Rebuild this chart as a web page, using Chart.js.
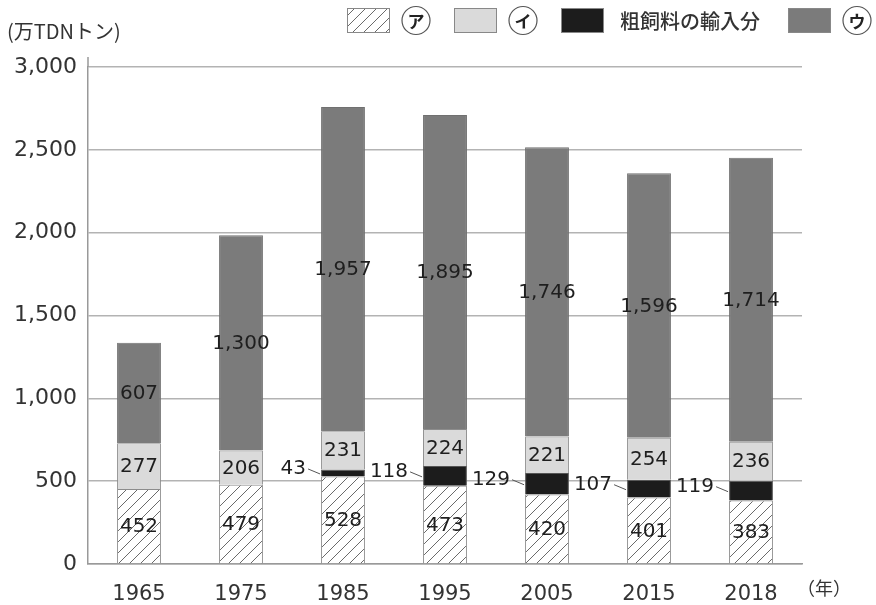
<!DOCTYPE html>
<html lang="ja">
<head>
<meta charset="UTF-8">
<title>飼料供給量の推移</title>
<script src="https://cdn.jsdelivr.net/npm/chart.js@4.4.1/dist/chart.umd.min.js"></script>
<style>
  html, body { margin: 0; padding: 0; background: #fff; overflow: hidden; }
  #wrap { width: 876px; height: 605px; }
</style>
</head>
<body>
<div id="wrap"><canvas id="chart" width="876" height="605"></canvas></div>
<script>
// data (万TDNトン)
const years = ['1965', '1975', '1985', '1995', '2005', '2015', '2018'];
const seriesA = [452, 479, 528, 473, 420, 401, 383];          // ア
const seriesImport = [null, null, 43, 118, 129, 107, 119];    // 粗飼料の輸入分
const seriesI = [277, 206, 231, 224, 221, 254, 236];          // イ
const seriesU = [607, 1300, 1957, 1895, 1746, 1596, 1714];    // ウ
const yTicks = [0, 500, 1000, 1500, 2000, 2500, 3000];

const FONT = '"DejaVu Sans", sans-serif';
const JFONT = '"Noto Sans CJK JP", sans-serif';

// hatched fill for ア
function hatch() {
  const s = 11;
  const c = document.createElement('canvas');
  c.width = s; c.height = s;
  const g = c.getContext('2d');
  g.fillStyle = '#fff';
  g.fillRect(0, 0, s, s);
  g.strokeStyle = '#6a6a6a';
  g.lineWidth = 1;
  g.beginPath();
  g.moveTo(0, s); g.lineTo(s, 0);
  g.moveTo(-2, 2); g.lineTo(2, -2);
  g.moveTo(s - 2, s + 2); g.lineTo(s + 2, s - 2);
  g.stroke();
  return g.createPattern(c, 'repeat');
}
const hatchFill = hatch();

// labels inside segments, import values to the left with a short leader
const segLabels = {
  id: 'segLabels',
  afterDatasetsDraw(chart) {
    const ctx = chart.ctx;
    ctx.save();
    ctx.font = '20px ' + FONT;
    ctx.fillStyle = '#1e1e1e';
    ctx.textBaseline = 'middle';
    chart.data.datasets.forEach((ds, i) => {
      chart.getDatasetMeta(i).data.forEach((bar, j) => {
        const v = ds.data[j];
        if (v == null) return;
        const cy = (bar.y + bar.base) / 2;
        const txt = v.toLocaleString('en-US');
        if (ds.labelOutside) {
          const left = bar.x - bar.width / 2;
          ctx.textAlign = 'right';
          ctx.fillText(txt, left - 15, cy - 4);
          ctx.strokeStyle = '#555';
          ctx.lineWidth = 1;
          ctx.beginPath();
          ctx.moveTo(left - 13, cy - 4);
          ctx.lineTo(left - 1, cy + 1);
          ctx.stroke();
        } else {
          ctx.textAlign = 'center';
          ctx.fillText(txt, bar.x, cy + 1);
        }
      });
    });
    ctx.restore();
  }
};

// unit label, year label and the legend row at the top
const extras = {
  id: 'extras',
  afterDraw(chart) {
    const ctx = chart.ctx;
    const area = chart.chartArea;
    ctx.save();
    // y axis runs a little above the top gridline
    ctx.strokeStyle = '#999';
    ctx.lineWidth = 1.5;
    ctx.beginPath();
    ctx.moveTo(area.left, area.top - 10);
    ctx.lineTo(area.left, area.top);
    ctx.stroke();

    ctx.fillStyle = '#333';
    ctx.textBaseline = 'middle';
    ctx.font = '20px ' + JFONT;
    ctx.textAlign = 'left';
    ctx.fillText('(万TDNトン)', 7, 31);
    ctx.font = '18px ' + JFONT;
    ctx.fillText('（年）', area.right - 5, 588);

    // legend: ア, イ, 粗飼料の輸入分, ウ
    const order = [0, 2, 1, 3];
    let x = 347;
    const by = 8, bw = 43, bh = 25;
    order.forEach(i => {
      const ds = chart.data.datasets[i];
      ctx.fillStyle = ds.backgroundColor;
      ctx.fillRect(x, by, bw, bh);
      ctx.strokeStyle = '#888';
      ctx.lineWidth = 1;
      ctx.strokeRect(x + 0.5, by + 0.5, bw - 1, bh - 1);
      if (ds.mark) {
        x += bw + 12;
        const r = 14, cx = x + r, cy = by + bh / 2;
        ctx.beginPath();
        ctx.arc(cx, cy, r, 0, Math.PI * 2);
        ctx.strokeStyle = '#555';
        ctx.lineWidth = 1.2;
        ctx.stroke();
        ctx.fillStyle = '#222';
        ctx.font = 'bold 17px ' + JFONT;
        ctx.textAlign = 'center';
        ctx.fillText(ds.mark, cx, cy + 1);
        x += 2 * r + 24;
      } else {
        x += bw + 16;
        ctx.fillStyle = '#333';
        ctx.font = '500 20px ' + JFONT;
        ctx.textAlign = 'left';
        ctx.fillText(ds.label, x, by + bh / 2 + 1);
        x += ctx.measureText(ds.label).width + 28;
      }
    });
    ctx.restore();
  }
};

new Chart(document.getElementById('chart'), {
  type: 'bar',
  data: {
    labels: years,
    datasets: [
      { label: 'ア', mark: 'ア', data: seriesA, backgroundColor: hatchFill, borderColor: '#8c8c8c', borderWidth: 1 },
      { label: '粗飼料の輸入分', data: seriesImport, backgroundColor: '#1c1c1c', borderColor: '#555', borderWidth: 1, labelOutside: true },
      { label: 'イ', mark: 'イ', data: seriesI, backgroundColor: '#dadada', borderColor: '#8c8c8c', borderWidth: 1 },
      { label: 'ウ', mark: 'ウ', data: seriesU, backgroundColor: '#7b7b7b', borderColor: '#707070', borderWidth: 1 }
    ]
  },
  options: {
    responsive: false,
    animation: false,
    devicePixelRatio: 1,
    layout: { padding: { top: 67, right: 74, left: 0, bottom: 0 } },
    datasets: { bar: { barPercentage: 0.43, categoryPercentage: 1 } },
    plugins: { legend: { display: false }, title: { display: false }, tooltip: { enabled: false } },
    scales: {
      x: {
        stacked: true,
        grid: { display: false },
        border: { display: true, color: '#999', width: 1.5 },
        ticks: { color: '#333', font: { family: FONT, size: 21 }, padding: 10, maxRotation: 0 },
        afterFit(scale) { scale.height = 41; }
      },
      y: {
        stacked: true,
        min: 0,
        max: 3000,
        afterBuildTicks(scale) { scale.ticks = yTicks.map(v => ({ value: v })); },
        grid: { color: '#b3b3b3', lineWidth: 1.5, drawTicks: false },
        border: { display: true, color: '#999', width: 1.5 },
        ticks: {
          color: '#333',
          font: { family: FONT, size: 22 },
          padding: 11,
          callback: v => v.toLocaleString('en-US')
        },
        afterFit(scale) { scale.width = 88; }
      }
    }
  },
  plugins: [segLabels, extras]
});
</script>
</body>
</html>
